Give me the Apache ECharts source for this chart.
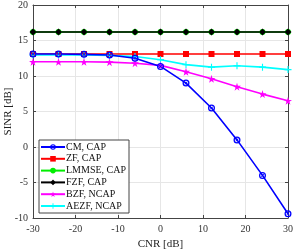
<!DOCTYPE html>
<html><head><meta charset="utf-8">
<script src="https://cdn.jsdelivr.net/npm/echarts@6/dist/echarts.min.js"></script>
<style>html,body{margin:0;padding:0;background:#fff}#c{width:295px;height:252px}</style>
</head><body><div id="c"></div>
<script>
var cnr = [-30,-24,-18,-12,-6,0,6,12,18,24,30];
var cm    = [13.1,13.1,13.05,12.95,12.5,11.35,9.0,5.5,1.0,-4.0,-9.4];
var zf    = [13.1,13.1,13.1,13.1,13.1,13.1,13.1,13.1,13.1,13.1,13.1];
var lmmse = [16.2,16.2,16.2,16.2,16.2,16.2,16.2,16.2,16.2,16.2,16.2];
var fzf   = [16.2,16.2,16.2,16.2,16.2,16.2,16.2,16.2,16.2,16.2,16.2];
var bzf   = [12.0,12.0,12.0,11.95,11.8,11.5,10.6,9.6,8.5,7.45,6.5];
var aezf  = [12.95,12.95,12.95,12.9,12.75,12.3,11.6,11.25,11.45,11.25,10.9];
var xTicks = [-30,-20,-10,0,10,20,30];
var yTicks = [-10,-5,0,5,10,15,20];

var STAR = 'path://M50,0 L61,35 L98,35 L68,57 L79,91 L50,70 L21,91 L32,57 L2,35 L39,35 Z';
var PLUS = 'path://M42,0 H58 V42 H100 V58 H58 V100 H42 V58 H0 V42 H42 Z';
var CIRCX = 'path://M50,0 A50,50 0 1,0 50,100 A50,50 0 1,0 50,0 Z M50,18 A32,32 0 1,1 50,82 A32,32 0 1,1 50,18 Z M28,36 L36,28 L50,42 L64,28 L72,36 L58,50 L72,64 L64,72 L50,58 L36,72 L28,64 L42,50 Z';
var font = 'Liberation Serif';
function pts(arr){ return cnr.map(function(x,i){return [x,arr[i]];}); }
function ser(name, arr, color, symbol, size){
  return {name:name, type:'line', data:pts(arr), symbol:symbol, symbolSize:size, showSymbol:true,
    lineStyle:{color:color,width:1.6,type:'solid'}, itemStyle:{color:color},
    emphasis:{disabled:true}, animation:false, z:3};
}
var axLine = {show:true,onZero:false,lineStyle:{color:'#444',width:1}};
var axTick = {show:true,inside:true,length:3,lineStyle:{color:'#444'}};
var chart = echarts.init(document.getElementById('c'));
chart.setOption({
  animation:false,
  grid:{left:33,right:7,top:5,bottom:34,containLabel:false,outerBoundsMode:'none'},
  xAxis:[{type:'value',min:-30,max:30,interval:10,position:'bottom',
    name:'CNR [dB]',nameLocation:'middle',nameGap:21,nameMoveOverlap:false,
    nameTextStyle:{fontFamily:font,fontSize:11,color:'#222'},
    axisLine:axLine, axisTick:axTick,
    axisLabel:{fontFamily:font,fontSize:10,color:'#333',margin:6},
    splitLine:{show:true,lineStyle:{color:'#e6e6e6',width:1}}},
   {type:'value',min:-30,max:30,interval:10,position:'top',
    axisLine:axLine, axisTick:axTick,
    axisLabel:{show:false},splitLine:{show:false}}],
  yAxis:[{type:'value',min:-10,max:20,interval:5,position:'left',
    name:'SINR [dB]',nameLocation:'middle',nameGap:19,nameMoveOverlap:false,
    nameTextStyle:{fontFamily:font,fontSize:11,color:'#222'},
    axisLine:axLine, axisTick:axTick,
    axisLabel:{fontFamily:font,fontSize:10,color:'#333',margin:5},
    splitLine:{show:true,lineStyle:{color:'#e6e6e6',width:1}}},
   {type:'value',min:-10,max:20,interval:5,position:'right',
    axisLine:axLine, axisTick:axTick,
    axisLabel:{show:false},splitLine:{show:false}}],
  legend:{orient:'vertical',left:39,top:140,itemWidth:24,itemHeight:7,itemGap:1.8,
    padding:[2,3,2,1],backgroundColor:'#fff',borderColor:'#444',borderWidth:1,
    textStyle:{fontFamily:font,fontSize:10,lineHeight:10,color:'#111',padding:[0,0,0,-4]},
    data:['CM, CAP','ZF, CAP','LMMSE, CAP','FZF, CAP','BZF, NCAP','AEZF, NCAP']},
  series:[
    ser('LMMSE, CAP', lmmse, '#00ee00', 'circle', 6),
    ser('FZF, CAP', fzf, '#000000', 'diamond', 7),
    ser('ZF, CAP', zf, '#ff0000', 'rect', 6),
    ser('AEZF, NCAP', aezf, '#00ffff', PLUS, 7),
    ser('BZF, NCAP', bzf, '#ff00ff', STAR, 8),
    ser('CM, CAP', cm, '#0000ff', CIRCX, 7)
  ]
});
</script></body></html>
